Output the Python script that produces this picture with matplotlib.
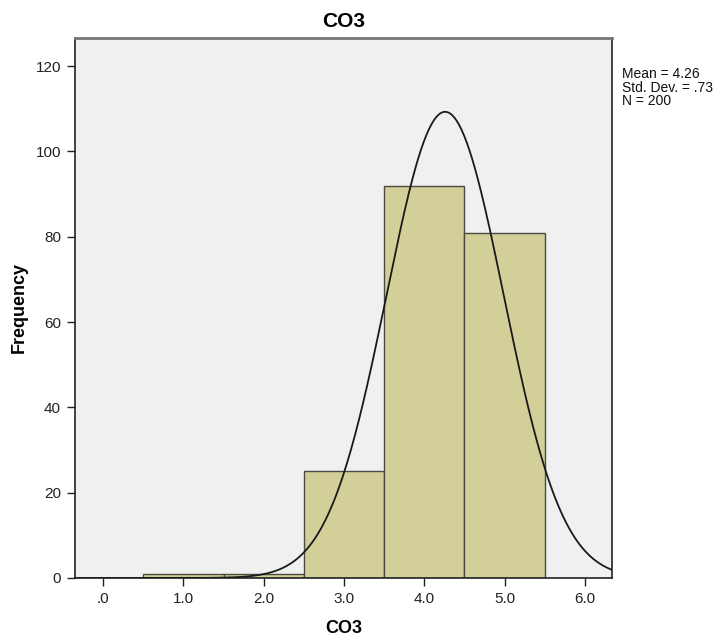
import numpy as np
import matplotlib
matplotlib.use("Agg")
import matplotlib.pyplot as plt

plt.rcParams['font.family'] = ['Liberation Sans', 'DejaVu Sans']

# histogram bins (centres) and counts
bin_centres = [1.0, 2.0, 3.0, 4.0, 5.0]
counts = [1, 1, 25, 92, 81]
mean = 4.26
sd = 0.73
n = 200
x_ticks = [0, 1, 2, 3, 4, 5, 6]
x_tick_labels = ['.0', '1.0', '2.0', '3.0', '4.0', '5.0', '6.0']
y_ticks = [0, 20, 40, 60, 80, 100, 120]

fig = plt.figure(figsize=(7.21, 6.39), dpi=100)
ax = fig.add_axes([0.104, 0.0955, 0.745, 0.845])
ax.set_facecolor('#f0f0f0')

ax.bar(bin_centres, counts, width=1.0, color='#d3cf98', edgecolor='#4a4a40', linewidth=1.0, zorder=2)

# normal curve scaled to counts (bin width 1)
x = np.linspace(-0.35, 6.34, 400)
y = n * 1.0 / (sd * np.sqrt(2 * np.pi)) * np.exp(-0.5 * ((x - mean) / sd) ** 2)
ax.plot(x, y, color='#1a1a1a', linewidth=1.3, zorder=3)

ax.set_xlim(-0.35, 6.34)
ax.set_ylim(0, 126.6)
ax.set_xticks(x_ticks)
ax.set_xticklabels(x_tick_labels)
ax.set_yticks(y_ticks)
ax.tick_params(direction='out', length=6, width=1, labelsize=11, colors='#222222', pad=4)

for side in ['left', 'bottom', 'right']:
    ax.spines[side].set_color('#222222')
    ax.spines[side].set_linewidth(1.2)
ax.spines['top'].set_color('#777777')
ax.spines['top'].set_linewidth(2)

ax.set_title('CO3', fontsize=15, fontweight='bold', pad=8)
ax.set_xlabel('CO3', fontsize=13, fontweight='bold', labelpad=10)
ax.set_ylabel('Frequency', fontsize=13, fontweight='bold', labelpad=6)

fig.text(0.862, 0.895, 'Mean = 4.26\nStd. Dev. = .73\nN = 200', fontsize=10,
         va='top', ha='left', linespacing=0.95, color='#111111')

fig.savefig('out.png', dpi=100, facecolor='white')
